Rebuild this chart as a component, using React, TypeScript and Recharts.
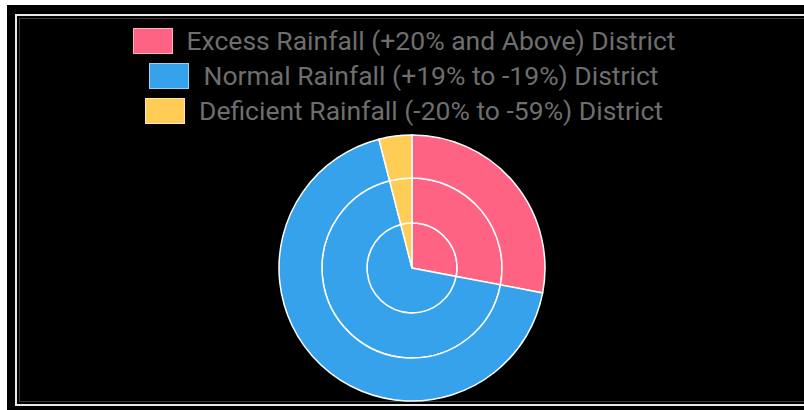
import { Pie, PieChart } from "recharts";

const categories = [
  "Excess Rainfall (+20% and Above) District",
  "Normal Rainfall (+19% to -19%) District",
  "Deficient Rainfall (-20% to -59%) District",
];
const colors = ["#ff6384", "#36a2eb", "#ffcd56"];

// three datasets drawn as rings, inner to outer
const innerValues = [7, 17, 1];
const middleValues = [7, 17, 1];
const outerValues = [7, 17, 1];

const toRows = (values: number[]) =>
  categories.map((name, i) => ({ name, value: values[i], fill: colors[i] }));

const rings = [
  { key: "inner", data: toRows(innerValues), inner: 0, outer: 45 },
  { key: "middle", data: toRows(middleValues), inner: 45, outer: 90 },
  { key: "outer", data: toRows(outerValues), inner: 90, outer: 133 },
];

const LegendBlock = () => (
  <div style={{ display: "flex", flexDirection: "column", alignItems: "center", gap: 9 }}>
    {categories.map((label, i) => (
      <div key={label} style={{ display: "flex", alignItems: "center", gap: 14, height: 26 }}>
        <span
          style={{
            display: "inline-block",
            width: 38,
            height: 24,
            background: colors[i],
            border: "1px solid rgba(255,255,255,0.5)",
          }}
        />
        <span
          style={{
            fontFamily: "Roboto, sans-serif",
            fontSize: 26.5,
            color: "#6e6e6e",
            whiteSpace: "nowrap",
            lineHeight: "26px",
          }}
        >
          {label}
        </span>
      </div>
    ))}
  </div>
);

export default function App() {
  return (
    <div
      style={{
        position: "fixed",
        left: 0,
        top: 0,
        width: 804,
        height: 410,
        background: "#000000",
        overflow: "hidden",
      }}
    >
      {/* white strips of the outer page edge */}
      <div style={{ position: "absolute", left: 0, top: 0, width: 804, height: 5, background: "#ffffff" }} />
      <div style={{ position: "absolute", left: 0, top: 0, width: 7, height: 410, background: "#ffffff" }} />
      {/* inner frame, open on the right where it runs off the picture */}
      <div
        style={{
          position: "absolute",
          left: 15,
          top: 14,
          width: 800,
          height: 388,
          borderTop: "2px solid #e8e8e8",
          borderLeft: "2px solid #e8e8e8",
          borderBottom: "2px solid #e8e8e8",
        }}
      />
      <div
        style={{
          position: "absolute",
          left: 19,
          top: 18,
          width: 800,
          height: 382,
          borderTop: "1px solid #3a3a3a",
          borderLeft: "1px solid #3a3a3a",
          borderBottom: "1px solid #3a3a3a",
        }}
      />
      <div style={{ position: "absolute", left: 0, top: 0 }}>
        <PieChart width={804} height={410} margin={{ top: 0, right: 0, bottom: 0, left: 0 }}>
          {rings.map((r) => (
            <Pie
              key={r.key}
              data={r.data}
              dataKey="value"
              nameKey="name"
              cx={412}
              cy={268}
              innerRadius={r.inner}
              outerRadius={r.outer}
              startAngle={90}
              endAngle={-270}
              stroke="#ffffff"
              strokeWidth={1.5}
              isAnimationActive={false}
              legendType="none"
            />
          ))}
        </PieChart>
      </div>
      <div style={{ position: "absolute", left: 0, top: 28, width: 808 }}>
        <LegendBlock />
      </div>
    </div>
  );
}
